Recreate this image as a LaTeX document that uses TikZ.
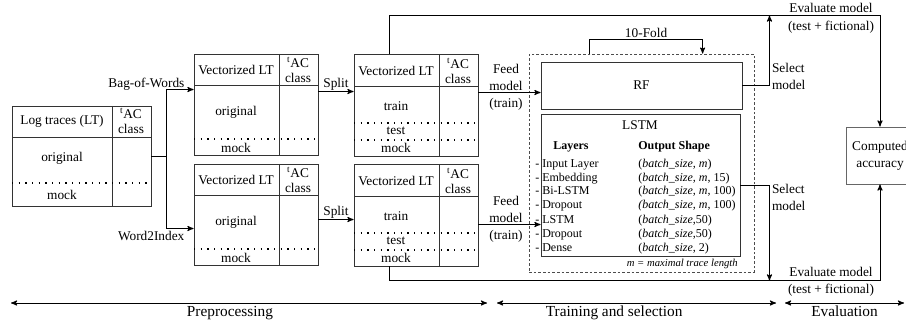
\documentclass[tikz,border=0pt]{standalone}
\usepackage{fontspec}
\setmainfont{Liberation Serif}
\usepackage{tikz}
\usetikzlibrary{calc}
\usetikzlibrary{arrows}
\usetikzlibrary{fit}

\tikzset{
	tab/.style={draw=black!80, line width=0.7pt, inner sep=0pt},
	sep/.style={draw=black!80, line width=0.7pt},
	dots/.style={line width=0.9pt, dash pattern=on 0.9pt off 4.1pt},
	conn/.style={line width=0.7pt, ->},
	axis/.style={line width=0.7pt, <->},
	tac/.style={align=center, inner sep=0pt, font=\fontsize{10}{11}\selectfont},
	lbl/.style={align=center, inner sep=1pt, font=\fontsize{10}{12.75}\selectfont},
	layer/.style={inner sep=0pt, font=\fontsize{9}{10.5}\selectfont},
}

\begin{document}
\begin{tikzpicture}[x=0.75pt, y=-0.75pt, >=stealth', font=\fontsize{10}{12}\selectfont]
\useasboundingbox (0,0) rectangle (906,324);

% log traces
\node[tab, fit={(12,106) (151,206)}] (lt) {};
\draw[sep] (112,106) -- (112,206);
\draw[sep] (12,137) -- (151,137);
\draw[dots] (12,183) -- (151,183);
\node (ltHead) at (62,121) {Log traces (LT)};
\node[tac] (ltClass) at (131,121) {\textsuperscript{t}AC\\class};
\node (ltOrig) at (62,158) {original};
\node (ltMock) at (62,195) {mock};

% vectorized
\node[tab, fit={(194,54) (318,155)}] (vecA) {};
\draw[sep] (279,54) -- (279,155);
\draw[sep] (194,85) -- (318,85);
\draw[dots] (194,139) -- (318,139);
\node (vecAHead) at (236,70) {Vectorized LT};
\node[tac] (vecAClass) at (298,70) {\textsuperscript{t}AC\\class};
\node (vecAOrig) at (236,112) {original};
\node (vecAMock) at (236,148) {mock};

\node[tab, fit={(194,164) (318,265)}] (vecB) {};
\draw[sep] (279,164) -- (279,265);
\draw[sep] (194,195) -- (318,195);
\draw[dots] (194,249) -- (318,249);
\node (vecBHead) at (236,180) {Vectorized LT};
\node[tac] (vecBClass) at (298,180) {\textsuperscript{t}AC\\class};
\node (vecBOrig) at (236,222) {original};
\node (vecBMock) at (236,258) {mock};

% split
\node[tab, fit={(354,54) (478,156)}] (splA) {};
\draw[sep] (439,54) -- (439,156);
\draw[sep] (354,86) -- (478,86);
\draw[dots] (354,123) -- (478,123);
\draw[dots] (354,140) -- (478,140);
\node (splAHead) at (396,71) {Vectorized LT};
\node[tac] (splAClass) at (458,71) {\textsuperscript{t}AC\\class};
\node (splATrain) at (396,106) {train};
\node (splATest) at (396,131) {test};
\node (splAMock) at (396,148) {mock};

\node[tab, fit={(354,164) (478,266)}] (splB) {};
\draw[sep] (439,164) -- (439,266);
\draw[sep] (354,196) -- (478,196);
\draw[dots] (354,233) -- (478,233);
\draw[dots] (354,250) -- (478,250);
\node (splBHead) at (396,181) {Vectorized LT};
\node[tac] (splBClass) at (458,181) {\textsuperscript{t}AC\\class};
\node (splBTrain) at (396,216) {train};
\node (splBTest) at (396,241) {test};
\node (splBMock) at (396,258) {mock};

% training and selection
\node[fit={(529,54) (754,272)}, draw=black!70, line width=0.6pt, dash pattern=on 2pt off 1.5pt, inner sep=0pt] (train) {};
\node[tab, fit={(541,62) (742,109)}] (rf) {};
\node (rfText) at (rf.center) {RF};
\node[tab, fit={(541,114) (740,256)}] (lstm) {};
\node (lstmTitle) at (640,125) {LSTM};
\node[layer, anchor=base west] (layHead) at (553,150) {\textbf{Layers}};
\node[layer, anchor=base west] (shpHead) at (638,150) {\textbf{Output Shape}};
\foreach \lay/\shp [count=\i] in {
	{- Input Layer}/{(\textit{batch\_size, m})},
	{- Embedding}/{(\textit{batch\_size, m}, 15)},
	{- Bi-LSTM}/{(\textit{batch\_size, m}, 100)},
	{- Dropout}/{\textit{(batch\_size, m}, 100)},
	{- LSTM}/{(\textit{batch\_size},50)},
	{- Dropout}/{(\textit{batch\_size},50)},
	{- Dense}/{(\textit{batch\_size}, 2)}} {
	\node[layer, anchor=base west] (lay\i) at (535,153+14*\i) {\lay};
	\node[layer, anchor=base west] (shp\i) at (638,153+14*\i) {\shp};
}
\node[anchor=base east, inner sep=0pt, font=\footnotesize\itshape] (mNote) at (738,266) {m = maximal trace length};

% evaluation
\node[tab, draw=black!60, fit={(846,127) (914,184)}] (acc) {};
\node[lbl] (accText) at (880,156) {Computed\\accuracy};

% connectors
\draw[conn] (lt.east) -- ++(15,0) |- ($(vecA.north west)+(0,36)$);
\draw[conn] (lt.east) -- ++(15,0) |- ($(vecB.north west)+(0,65)$);
\node[lbl, anchor=base east] (bow) at (186,88) {Bag-of-Words};
\node[lbl, anchor=base east] (w2i) at (186,240) {Word2Index};

\draw[conn] ($(vecA.north east)+(0,38)$) -- node[lbl, above, inner sep=0.5pt] (splitA) {Split} ($(splA.north west)+(0,38)$);
\draw[conn] ($(vecB.north east)+(0,56)$) -- node[lbl, above, inner sep=0.5pt] (splitB) {Split} ($(splB.north west)+(0,56)$);

\draw[conn] ($(splA.north east)+(0,39)$) -- ($(rf.north west)+(0,31)$);
\node[lbl] (feedA) at (506,87) {Feed\\model\\(train)};
\draw[conn] ($(splB.north east)+(0,61)$) -- ($(lstm.north west)+(0,111)$);
\node[lbl] (feedB) at (506,219) {Feed\\model\\(train)};

\draw[conn] ($(train.north west)+(61,0)$) -- ++(0,-14) -| node[pos=0.25, above, inner sep=1pt] (fold) {10-Fold} ($(train.north west)+(174,0)$);

\draw[conn] ($(splA.north west)+(36,0)$) -- ++(0,-38) coordinate (evalTop) -| (acc.north);
\node[lbl, font=\fontsize{10}{13.5}\selectfont] (evalTopLbl) at (831,18.5) {Evaluate model\\(test + fictional)};
\draw[conn] ($(splB.south west)+(36,0)$) -- ++(0,14) coordinate (evalBot) -| (acc.south);
\node[lbl, font=\fontsize{10}{13}\selectfont] (evalBotLbl) at (831,281.5) {Evaluate model\\(test + fictional)};

\draw[conn] (rf.east) -- ++(27,0) coordinate (selTop) -- (selTop |- evalTop);
\node[lbl, anchor=west, align=left] (selTopLbl) at ($(selTop)+(1,-9)$) {Select\\model};
\draw[conn] (lstm.east) -- ++(29,0) coordinate (selBot) -- (selBot |- evalBot);
\node[lbl, anchor=west, align=left] (selBotLbl) at ($(selBot)+(1,12)$) {Select\\model};

% phases
\coordinate (preL) at (11,303);
\coordinate (preR) at (487,303);
\coordinate (trnL) at (497,303);
\coordinate (trnR) at (776,303);
\coordinate (evaL) at (785,303);
\coordinate (evaR) at (904,303);
\draw[axis] (preL) -- node[pos=0.46, below, inner sep=2pt, font=\fontsize{11.5}{13}\selectfont] (preLbl) {Preprocessing} (preR);
\draw[axis] (trnL) -- node[pos=0.42, below, inner sep=2pt, font=\fontsize{11.5}{13}\selectfont] (trnLbl) {Training and selection} (trnR);
\draw[axis] (evaL) -- node[pos=0.5, below, inner sep=2pt, font=\fontsize{11.5}{13}\selectfont] (evaLbl) {Evaluation} (evaR);
\end{tikzpicture}
\end{document}
